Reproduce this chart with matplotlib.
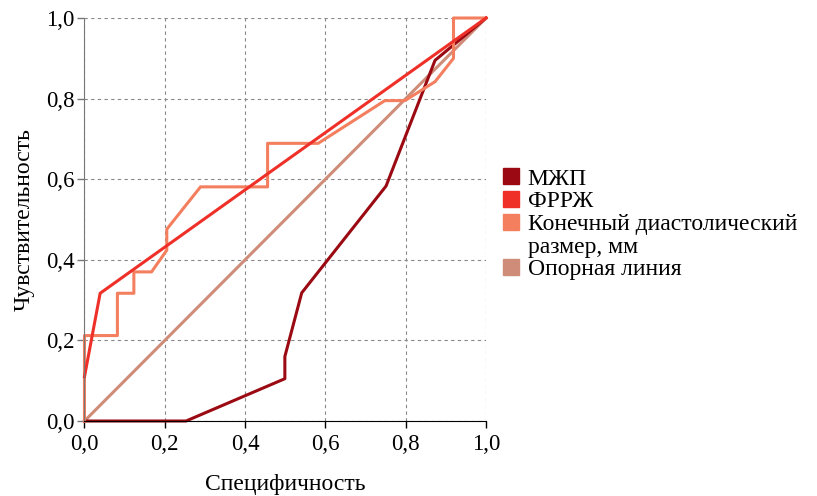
import matplotlib
matplotlib.use("Agg")
import matplotlib.pyplot as plt
from matplotlib.lines import Line2D

plt.rcParams['font.family'] = ['Liberation Serif', 'DejaVu Serif']

series_names = ["МЖП", "ФРРЖ", "Конечный диастолический\nразмер, мм", "Опорная линия"]
colors = ["#9B0A12", "#EE3028", "#F47F5F", "#CF8C78"]

mzhp_x = [0.0, 0.253, 0.499, 0.499, 0.541, 0.751, 0.873, 1.0]
mzhp_y = [0.0, 0.0, 0.105, 0.16, 0.318, 0.583, 0.895, 1.0]

frrzh_x = [0.0, 0.039, 1.0]
frrzh_y = [0.11, 0.317, 1.0]

kdr_x = [0.0, 0.0, 0.082, 0.082, 0.123, 0.123, 0.167, 0.205, 0.205, 0.289, 0.456, 0.456,
         0.582, 0.748, 0.798, 0.873, 0.919, 0.919, 1.0]
kdr_y = [0.0, 0.212, 0.212, 0.317, 0.317, 0.37, 0.37, 0.424, 0.476, 0.581, 0.581, 0.689,
         0.689, 0.795, 0.795, 0.842, 0.9, 1.0, 1.0]

ref_x = [0.0, 1.0]
ref_y = [0.0, 1.0]

ticks = [0.0, 0.2, 0.4, 0.6, 0.8, 1.0]
tick_labels = ["0,0", "0,2", "0,4", "0,6", "0,8", "1,0"]

fig = plt.figure(figsize=(8.17, 4.96), dpi=100)
ax = fig.add_axes([0.1034, 0.1512, 0.4915, 0.8125])

ax.set_xlim(0, 1)
ax.set_ylim(0, 1)
ax.set_xticks(ticks)
ax.set_yticks(ticks)
ax.set_xticklabels(tick_labels, fontsize=16.5)
ax.set_yticklabels(tick_labels, fontsize=16.5)
ax.grid(True, color="#888888", linestyle=(0, (3, 3)), linewidth=0.8)
ax.set_axisbelow(True)
for s in ["top", "right"]:
    ax.spines[s].set_visible(False)
ax.spines["left"].set_color("#777777")
ax.spines["bottom"].set_color("#000000")
ax.tick_params(direction="out", length=5, width=1, pad=2)
ax.tick_params(axis="x", pad=4)
ax.tick_params(axis="y", colors="#777777", labelcolor="black")

lw = 2.2
ax.plot(ref_x, ref_y, color=colors[3], lw=lw, clip_on=False)
ax.plot(mzhp_x, mzhp_y, color=colors[0], lw=lw, clip_on=False)
ax.plot(kdr_x, kdr_y, color=colors[2], lw=lw, clip_on=False)
ax.plot(frrzh_x, frrzh_y, color=colors[1], lw=lw, clip_on=False)

ax.set_xlabel("Специфичность", fontsize=17, labelpad=14)
ax.set_ylabel("Чувствительность", fontsize=17, labelpad=8)

# Legend: split wrapped label so the marker aligns with its first line
handles, labels = [], []
for name, c in zip(series_names, colors):
    parts = name.split("\n")
    handles.append(Line2D([], [], marker="s", linestyle="none", markersize=12,
                          markerfacecolor=c, markeredgecolor=c))
    labels.append(parts[0])
    for extra in parts[1:]:
        handles.append(Line2D([], [], linestyle="none", marker=None))
        labels.append(extra)
fig.legend(handles, labels, loc="center left", bbox_to_anchor=(0.614, 0.548),
           frameon=False, fontsize=17, handletextpad=0.3, labelspacing=0.05,
           handlelength=0.8, borderaxespad=0, borderpad=0)

fig.savefig("out.png", dpi=100)
